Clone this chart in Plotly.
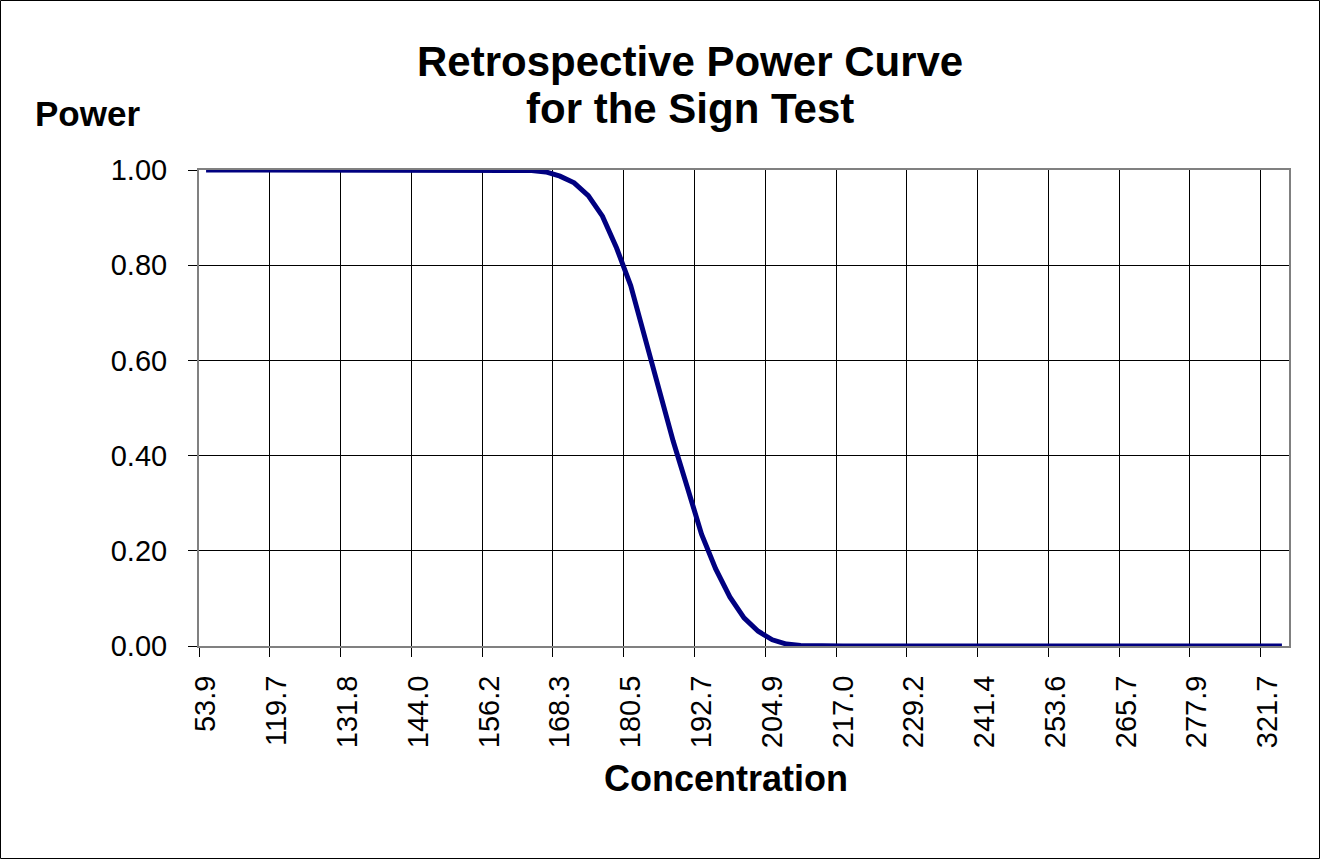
import plotly.graph_objects as go

# Concentration categories (x axis, categorical)
concentration = [
    "53.9", "109.9", "112.4", "114.8", "117.2", "119.7", "122.1", "124.5", "127.0", "129.4",
    "131.8", "134.3", "136.7", "139.1", "141.6", "144.0", "146.4", "148.9", "151.3", "153.7",
    "156.2", "158.6", "161.0", "163.5", "165.9", "168.3", "170.8", "173.2", "175.6", "178.1",
    "180.5", "183.0", "185.4", "187.8", "190.3", "192.7", "195.1", "197.6", "200.0", "202.4",
    "204.9", "207.3", "209.7", "212.2", "214.6", "217.0", "219.5", "221.9", "224.3", "226.8",
    "229.2", "231.6", "234.1", "236.5", "238.9", "241.4", "243.8", "246.2", "248.7", "251.1",
    "253.6", "256.0", "258.4", "260.9", "263.3", "265.7", "268.2", "270.6", "273.0", "275.5",
    "277.9", "280.3", "282.8", "285.2", "287.6", "321.7", "324.1",
]

# Power values
power = [
    1.000, 1.000, 1.000, 1.000, 1.000, 1.000, 1.000, 1.000, 1.000, 1.000,
    1.000, 1.000, 1.000, 1.000, 1.000, 1.000, 1.000, 1.000, 1.000, 1.000,
    1.000, 1.000, 1.000, 0.999, 0.996, 0.987, 0.973, 0.946, 0.903, 0.836,
    0.757, 0.646, 0.537, 0.430, 0.333, 0.235, 0.162, 0.103, 0.059, 0.031,
    0.013, 0.004, 0.001, 0.000, 0.000, 0.000, 0.000, 0.000, 0.000, 0.000,
    0.000, 0.000, 0.000, 0.000, 0.000, 0.000, 0.000, 0.000, 0.000, 0.000,
    0.000, 0.000, 0.000, 0.000, 0.000, 0.000, 0.000, 0.000, 0.000, 0.000,
    0.000, 0.000, 0.000, 0.000, 0.000, 0.000, 0.000,
]

title_lines = ["Retrospective Power Curve", "for the Sign Test"]
y_title = "Power"
x_title = "Concentration"

FONT = "Liberation Sans, Arial, sans-serif"

W, H = 1320, 859
ML, MR, MT, MB = 199, 31, 170, 213
PW = W - ML - MR
PH = H - MT - MB


def px_to_paper_x(px):
    return (px - ML) / PW


def px_to_paper_y(py):
    return (H - MB - py) / PH


fig = go.Figure()
fig.add_trace(go.Scatter(
    x=concentration, y=power, mode="lines",
    line=dict(color="#000080", width=5),
    hoverinfo="x+y", showlegend=False,
))

fig.update_layout(
    width=W, height=H,
    margin=dict(l=ML, r=MR, t=MT, b=MB, pad=0),
    paper_bgcolor="white", plot_bgcolor="white",
    font=dict(family=FONT, color="black"),
    showlegend=False,
)

fig.update_xaxes(
    type="category",
    range=[-0.5, len(concentration) - 0.5],
    tickmode="linear", tick0=0, dtick=5,
    tickson="boundaries",
    ticks="outside", ticklen=9, tickcolor="black", tickwidth=1,
    tickangle=-90,
    tickfont=dict(size=29, family=FONT, color="black"),
    ticklabelstandoff=16,
    showgrid=True, gridcolor="black", gridwidth=1,
    showline=True, linecolor="#808080", linewidth=2, mirror=True,
    zeroline=False,
)
fig.update_yaxes(
    range=[0, 1],
    tickmode="linear", tick0=0, dtick=0.2, tickformat=".2f",
    ticks="outside", ticklen=9, tickcolor="black", tickwidth=1,
    tickfont=dict(size=29, family=FONT, color="black"),
    ticklabelstandoff=15,
    showgrid=True, gridcolor="black", gridwidth=1,
    showline=True, linecolor="#808080", linewidth=2, mirror=True,
    zeroline=False,
)

annotations = [
    dict(text="<b>" + title_lines[0] + "</b>", x=px_to_paper_x(690), y=px_to_paper_y(62),
         xref="paper", yref="paper", xanchor="center", yanchor="middle",
         showarrow=False, font=dict(size=42, family=FONT, color="black")),
    dict(text="<b>" + title_lines[1] + "</b>", x=px_to_paper_x(690), y=px_to_paper_y(108),
         xref="paper", yref="paper", xanchor="center", yanchor="middle",
         showarrow=False, font=dict(size=42, family=FONT, color="black")),
    dict(text="<b>" + y_title + "</b>", x=px_to_paper_x(33), y=px_to_paper_y(113),
         xref="paper", yref="paper", xanchor="left", yanchor="middle",
         showarrow=False, font=dict(size=35, family=FONT, color="black")),
    dict(text="<b>" + x_title + "</b>", x=px_to_paper_x(726), y=px_to_paper_y(778),
         xref="paper", yref="paper", xanchor="center", yanchor="middle",
         showarrow=False, font=dict(size=36, family=FONT, color="black")),
]
fig.update_layout(annotations=annotations)

# outer chart border
fig.add_shape(type="rect", xref="paper", yref="paper",
              x0=px_to_paper_x(0.5), x1=px_to_paper_x(W - 0.5),
              y0=px_to_paper_y(H - 0.5), y1=px_to_paper_y(0.5),
              line=dict(color="black", width=1), layer="below")

fig.write_html("out.html", config={"displayModeBar": False},
               post_script="document.body.style.margin='0';")
